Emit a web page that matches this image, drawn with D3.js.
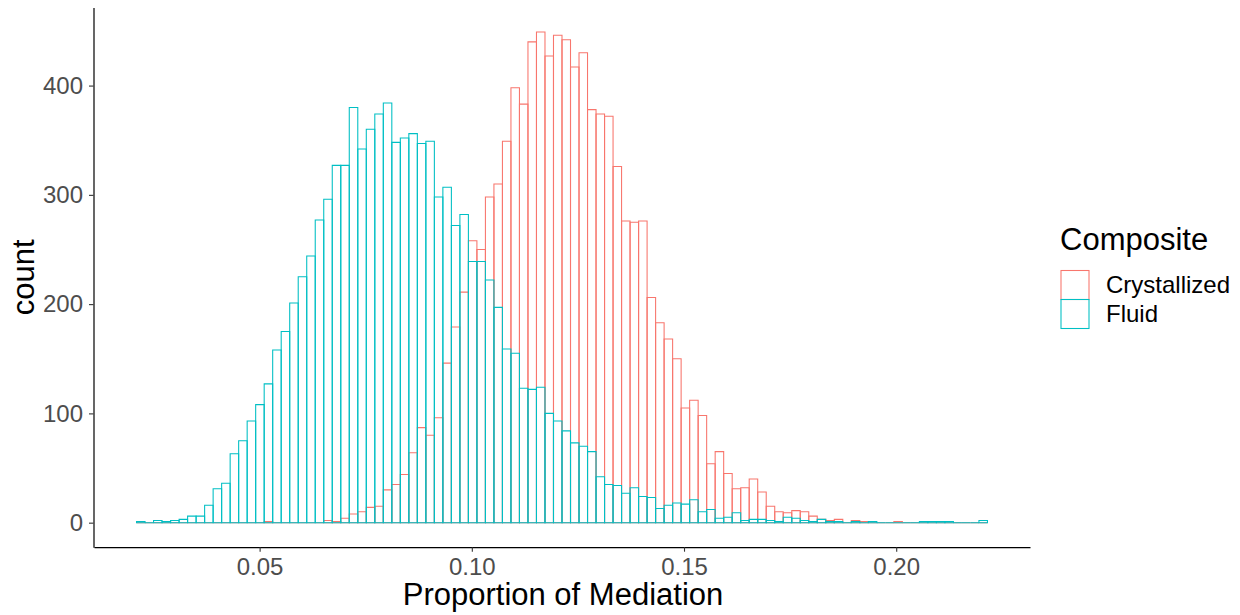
<!DOCTYPE html>
<html>
<head>
<meta charset="utf-8">
<script src="https://cdn.jsdelivr.net/npm/d3@7"></script>
<style>
  html, body { margin: 0; padding: 0; background: #ffffff; }
  svg { display: block; }
  text { font-family: "Liberation Sans", Arial, Helvetica, sans-serif; }
</style>
</head>
<body>
<svg id="chart" width="1240" height="615"></svg>
<script>
// ---- Data ----
const seriesNames = ["Crystallized", "Fluid"];
const seriesColors = ["#F8766D", "#00BFC4"];
const binStart = 0.0210;     // left edge of the first bin
const binWidth = 0.002005;   // bin width

const crystallizedCounts = [
  0, 0, 0, 0, 0, 0, 0, 0, 0, 0,
  0, 0, 0, 0, 0, 1, 0, 0, 0, 0,
  0, 0, 2, 1, 4, 8, 10, 14, 15, 30,
  35, 44, 64, 87, 80, 96, 146, 179, 211, 258,
  250, 298, 310, 349, 398, 383, 440, 449, 427, 446,
  442, 417, 430, 378, 374, 372, 326, 276, 275, 276,
  206, 183, 168, 150, 105, 112, 98, 54, 65, 45,
  31, 32, 40, 28, 15, 10, 9, 11, 10, 6,
  3, 2, 3, 0, 2, 1, 0, 0, 0, 1,
  0, 0, 0, 0, 0, 0, 0, 0, 0, 0
];
const fluidCounts = [
  1, 0, 2, 1, 2, 3, 6, 6, 16, 31,
  36, 63, 75, 93, 108, 127, 158, 175, 201, 225,
  244, 277, 296, 327, 327, 380, 342, 360, 374, 384,
  348, 352, 356, 347, 349, 298, 307, 272, 282, 239,
  239, 222, 197, 159, 155, 123, 122, 124, 100, 93,
  84, 73, 70, 65, 42, 35, 34, 27, 32, 24,
  23, 13, 16, 18, 17, 21, 10, 12, 4, 5,
  9, 2, 3, 3, 2, 1, 5, 4, 2, 1,
  3, 1, 1, 0, 1, 0, 1, 0, 0, 0,
  0, 0, 1, 1, 1, 1, 0, 0, 0, 2
];
const xTickValues = [0.05, 0.10, 0.15, 0.20];
const xTickLabels = ["0.05", "0.10", "0.15", "0.20"];
const yTickValues = [0, 100, 200, 300, 400];
const xTitle = "Proportion of Mediation";
const yTitle = "count";
const legendTitle = "Composite";

// ---- Build bins ----
const nBins = fluidCounts.length;
const binEdges = d3.range(nBins).map(i => binStart + i * binWidth);
const seriesData = [crystallizedCounts, fluidCounts].map((counts, s) => ({
  name: seriesNames[s],
  color: seriesColors[s],
  bins: counts.map((c, i) => ({ x0: binEdges[i], x1: binEdges[i] + binWidth, count: c }))
}));

// ---- Scales (ggplot-like 5% expansion) ----
const xMin = binStart, xMax = binStart + nBins * binWidth;
const xPad = (xMax - xMin) * 0.05;
const panel = { left: 94, right: 1030, top: 7.5, bottom: 547.2 };
const x = d3.scaleLinear().domain([xMin - xPad, xMax + xPad]).range([panel.left, panel.right]);
const yMax = d3.max(seriesData, s => d3.max(s.bins, b => b.count));
const yPad = yMax * 0.05;
const y = d3.scaleLinear().domain([-yPad, yMax + yPad]).range([panel.bottom, panel.top]);

const svg = d3.select("#chart");

// ---- Bars (drawn as closed paths so empty bins still show their outline) ----
function barPath(d) {
  const p = d3.path();
  p.rect(x(d.x0), y(d.count), x(d.x1) - x(d.x0), y(0) - y(d.count));
  return p.toString();
}
const g = svg.append("g");
seriesData.forEach(s => {
  g.append("g")
    .selectAll("path")
    .data(s.bins)
    .join("path")
    .attr("d", barPath)
    .attr("fill", "none")
    .attr("stroke", s.color)
    .attr("stroke-width", 1.07);
});

// ---- Axes ----
const xAxis = d3.axisBottom(x)
  .tickValues(xTickValues)
  .tickFormat((d, i) => xTickLabels[i])
  .tickSizeInner(4.5).tickSizeOuter(0).tickPadding(6);
const gx = svg.append("g").attr("transform", `translate(0,${panel.bottom})`).call(xAxis);

const yAxis = d3.axisLeft(y)
  .tickValues(yTickValues)
  .tickSizeInner(4.5).tickSizeOuter(0).tickPadding(6);
const gy = svg.append("g").attr("transform", `translate(${panel.left - 0.5},0)`).call(yAxis);

[gx, gy].forEach(ax => {
  ax.select(".domain").attr("stroke", "#000000").attr("stroke-width", 1.2);
  ax.selectAll(".tick line").attr("stroke", "#333333").attr("stroke-width", 1.1);
  ax.selectAll(".tick text")
    .attr("fill", "#4D4D4D")
    .style("font-size", "24px")
    .style("font-family", "'Liberation Sans', Arial, sans-serif");
});

// ---- Axis titles ----
svg.append("text")
  .attr("x", 563)
  .attr("y", 604.5)
  .attr("text-anchor", "middle")
  .style("font-size", "31px")
  .attr("fill", "#000")
  .text(xTitle);

svg.append("text")
  .attr("transform", `translate(34,${(panel.top + panel.bottom) / 2}) rotate(-90)`)
  .attr("text-anchor", "middle")
  .style("font-size", "31px")
  .attr("fill", "#000")
  .text(yTitle);

// ---- Legend ----
const legend = svg.append("g");
legend.append("text")
  .attr("x", 1060)
  .attr("y", 250)
  .style("font-size", "31px")
  .attr("fill", "#000")
  .text(legendTitle);

const keyTop = 270.5, keySize = 29;
seriesData.forEach((s, i) => {
  legend.append("rect")
    .attr("x", 1061)
    .attr("y", keyTop + i * keySize)
    .attr("width", 28)
    .attr("height", keySize)
    .attr("fill", "none")
    .attr("stroke", s.color)
    .attr("stroke-width", 1.07);
  legend.append("text")
    .attr("x", 1106)
    .attr("y", keyTop + i * keySize + 22.5)
    .style("font-size", "24px")
    .attr("fill", "#000")
    .text(s.name);
});
</script>
</body>
</html>
